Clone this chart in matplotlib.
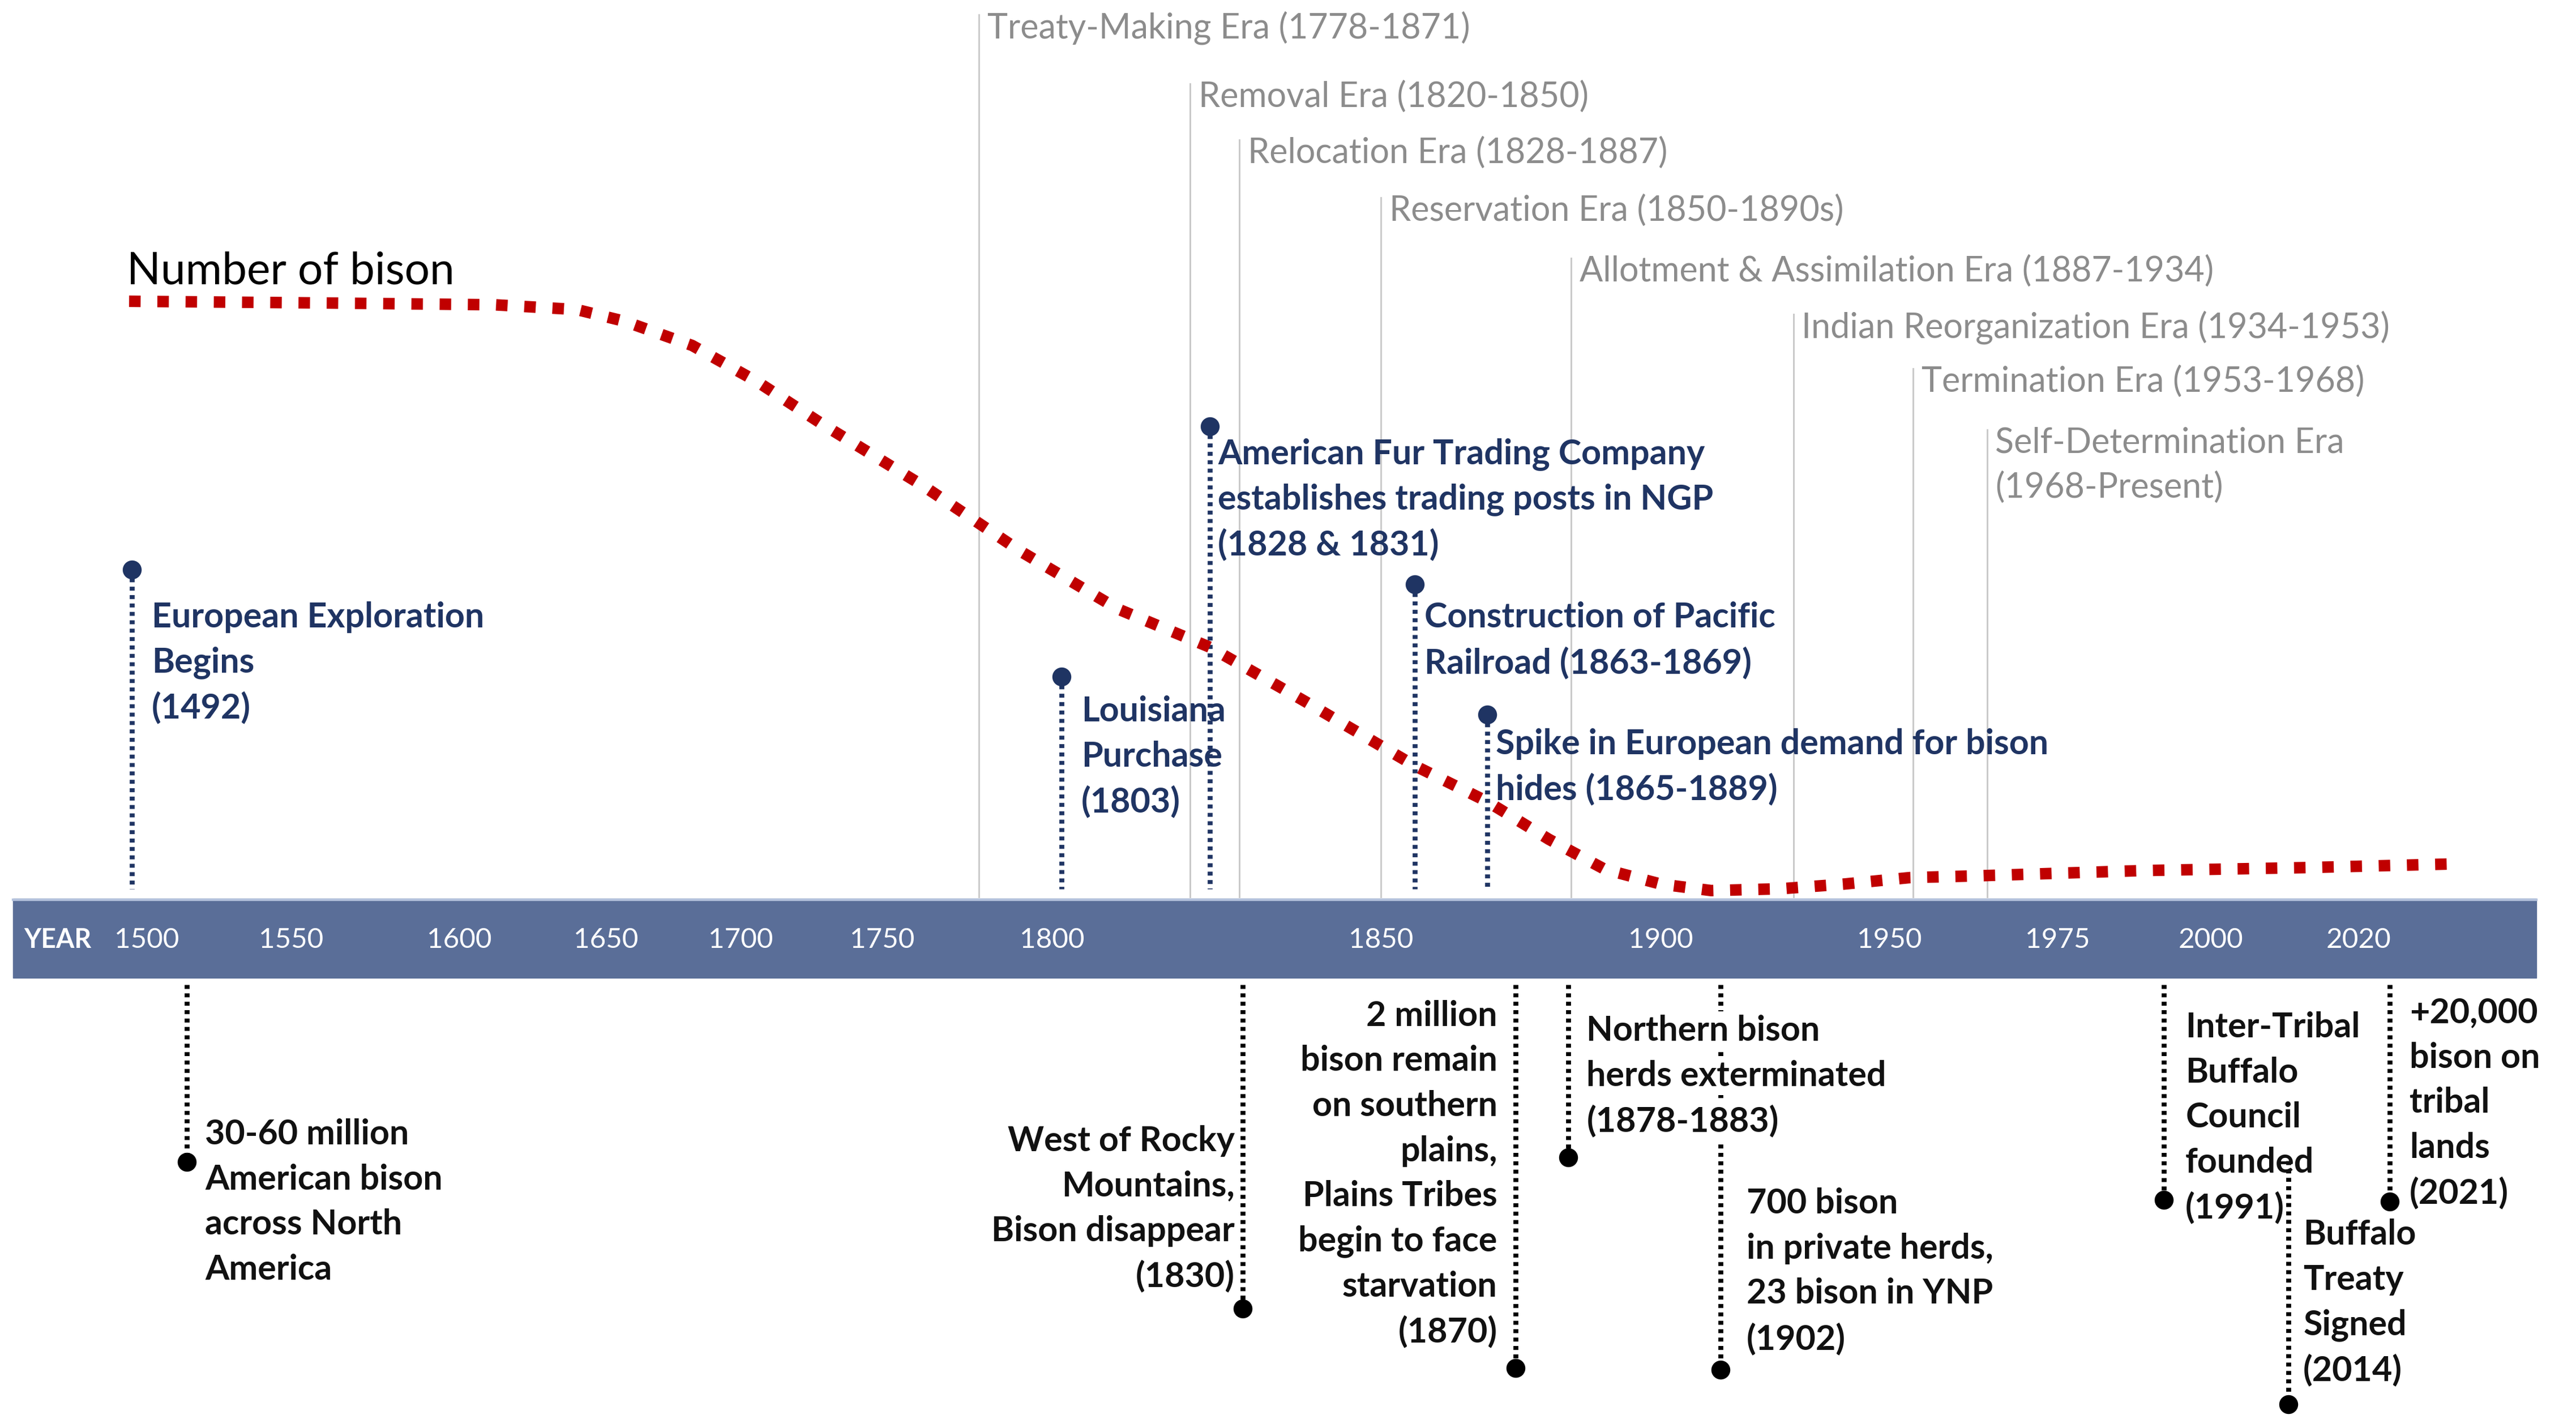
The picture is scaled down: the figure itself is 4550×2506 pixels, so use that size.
import numpy as np
import matplotlib.pyplot as plt
from matplotlib.patches import Rectangle

# canvas is laid out in units of the 1565 px wide preview of the chart
W, H = 1565, 862
DPI = 100
SCALE = 4550 / W
FONT = "Lato"


def pt(px):
    # preview pixels -> points
    return px * SCALE * 72 / DPI


# time axis: tick years and where they sit along the band
tick_years = [1500, 1550, 1600, 1650, 1700, 1750, 1800, 1850, 1900, 1950, 1975, 2000, 2020]
tick_x = [89, 177, 279, 368, 450, 536, 639, 839, 1009, 1148, 1250, 1343, 1433]


def to_x(year):
    year = np.asarray(year, dtype=float)
    x = np.interp(year, tick_years, tick_x)
    lo = (tick_x[1] - tick_x[0]) / (tick_years[1] - tick_years[0])
    hi = (tick_x[-1] - tick_x[-2]) / (tick_years[-1] - tick_years[-2])
    x = np.where(year < tick_years[0], tick_x[0] + (year - tick_years[0]) * lo, x)
    x = np.where(year > tick_years[-1], tick_x[-1] + (year - tick_years[-1]) * hi, x)
    return x


# number of bison curve (relative level, 100 = pre-contact)
curve_years = [1494, 1561, 1612, 1640, 1657, 1682, 1706, 1729, 1762, 1791, 1810, 1824, 1838,
               1856, 1869, 1880, 1890, 1900, 1911, 1926, 1940, 1953, 1963, 1989, 2013, 2032]
curve_level = [100, 99.7, 99.4, 98.6, 96.6, 92.5, 86.3, 79.1, 68.7, 57.5, 47.8, 41.3, 32.4,
               21.2, 15.1, 8.7, 3.6, 1.1, 0, 0.3, 1.1, 2.2, 2.5, 3.4, 3.9, 4.5]

# policy eras
era_labels = ["Treaty-Making Era (1778-1871)", "Removal Era (1820-1850)",
              "Relocation Era (1828-1887)", "Reservation Era (1850-1890s)",
              "Allotment & Assimilation Era (1887-1934)",
              "Indian Reorganization Era (1934-1953)", "Termination Era (1953-1968)",
              "Self-Determination Era\n(1968-Present)"]
era_years = [1778.5, 1821, 1828.5, 1850, 1884, 1929, 1953.5, 1964.5]
era_label_y = [17, 59, 93, 128, 165, 199, 232, 269]

# events above the axis
top_labels = [["European Exploration", "Begins", "(1492)"],
              ["Louisiana", "Purchase", "(1803)"],
              ["American Fur Trading Company", "establishes trading posts in NGP", "(1828 & 1831)"],
              ["Construction of Pacific", "Railroad (1863-1869)"],
              ["Spike in European demand for bison", "hides (1865-1889)"]]
top_years = [1495, 1801.5, 1824, 1856, 1869]
top_dot_y = [346, 411, 259, 355, 434]
top_text_y = [375, 432, 276, 375, 452]
top_text_dx = [12, 12, 5, 6, 5]

# events below the axis
bottom_labels = [["30-60 million", "American bison", "across North", "America"],
                 ["West of Rocky", "Mountains,", "Bison disappear", "(1830)"],
                 ["2 million", "bison remain", "on southern", "plains,", "Plains Tribes",
                  "begin to face", "starvation", "(1870)"],
                 ["Northern bison", "herds exterminated", "(1878-1883)"],
                 ["700 bison", "in private herds,", "23 bison in YNP", "(1902)"],
                 ["Inter-Tribal", "Buffalo", "Council", "founded", "(1991)"],
                 ["Buffalo", "Treaty", "Signed", "(2014)"],
                 ["+20,000", "bison on", "tribal", "lands", "(2021)"]]
bottom_years = [1514, 1829, 1874, 1883.5, 1913, 1992.4, 2010.5, 2024.2]
bottom_top_y = [598, 598, 598, 598, 598, 598, 705, 598]
bottom_dot_y = [706, 795, 831, 703, 832, 729, 853, 730]
bottom_text_y = [689, 693, 617, 626, 731, 624, 750, 615]
bottom_text_dx = [11, -5, -11, 11, 16, 13, 9, 12]

NAVY = "#1F3463"
RED = "#C00000"
GREY_TXT = "#8C8C8C"
BAND = "#5A6E98"
LINE_H = 27.4
TXT = 21

fig = plt.figure(figsize=(4550 / DPI, 2506 / DPI), dpi=DPI)
ax = fig.add_axes([0, 0, 1, 1])
ax.set_xlim(0, W)
ax.set_ylim(H, 0)
ax.axis("off")

# era lines and labels
for lab, yr, ly in zip(era_labels, era_years, era_label_y):
    x = float(to_x(yr))
    ax.plot([x, x], [ly - 8, 545], color="#C9C9C9", lw=pt(1.0), zorder=1)
    for i, line in enumerate(lab.split("\n")):
        ax.text(x + 5, ly + i * LINE_H, line, color=GREY_TXT, fontsize=pt(TXT),
                family=FONT, va="center", ha="left", zorder=2)

# axis band
ax.add_patch(Rectangle((8, 546), 1533, 48, color=BAND, zorder=3))
ax.plot([8, 1541], [546.5, 546.5], color="#B4C2DD", lw=pt(1.5), zorder=3)
ax.text(35, 571, "YEAR", color="white", fontsize=pt(16), weight="bold",
        family=FONT, ha="center", va="center", zorder=4)
for yr, tx in zip(tick_years, tick_x):
    ax.text(tx, 571, str(yr), color="white", fontsize=pt(17), family=FONT,
            ha="center", va="center", zorder=4)

# top events
for lines, yr, dy, ty, dx in zip(top_labels, top_years, top_dot_y, top_text_y, top_text_dx):
    x = float(to_x(yr))
    ax.plot([x, x], [dy, 540], color=NAVY, lw=pt(3), ls=(0, (0.8, 0.9)), zorder=5)
    ax.plot(x, dy, "o", color=NAVY, ms=pt(11.5), mew=0, zorder=6)
    for i, line in enumerate(lines):
        ax.text(x + dx, ty + i * LINE_H, line, color=NAVY, fontsize=pt(TXT),
                weight="bold", family=FONT, va="center", ha="left", zorder=5)

# bottom events
for lines, yr, t0, dy, ty, dx in zip(bottom_labels, bottom_years, bottom_top_y,
                                     bottom_dot_y, bottom_text_y, bottom_text_dx):
    x = float(to_x(yr))
    ax.plot([x, x], [t0, dy], color="black", lw=pt(3), ls=(0, (0.8, 0.9)), zorder=5)
    ax.plot(x, dy, "o", color="black", ms=pt(11.5), mew=0, zorder=6)
    ha = "left" if dx > 0 else "right"
    for i, line in enumerate(lines):
        bbox = None
        if lines[0] == "Northern bison":
            bbox = dict(facecolor="white", edgecolor="none", pad=pt(2))
        ax.text(x + dx, ty + i * LINE_H, line, color="#111111", fontsize=pt(TXT),
                weight="bold", family=FONT, va="center", ha=ha, zorder=7, bbox=bbox)

# number of bison curve
cx = to_x(curve_years)
cy = 541 - np.array(curve_level) * 3.58
ax.plot(cx, cy, color=RED, lw=pt(7), ls=(0, (1, 1.45)), solid_capstyle="butt",
        dash_capstyle="butt", zorder=8)
ax.text(77, 165, "Number of bison", color="black", fontsize=pt(27), family=FONT,
        ha="left", va="center", zorder=8)

fig.savefig("out.png", dpi=DPI, facecolor="white")
